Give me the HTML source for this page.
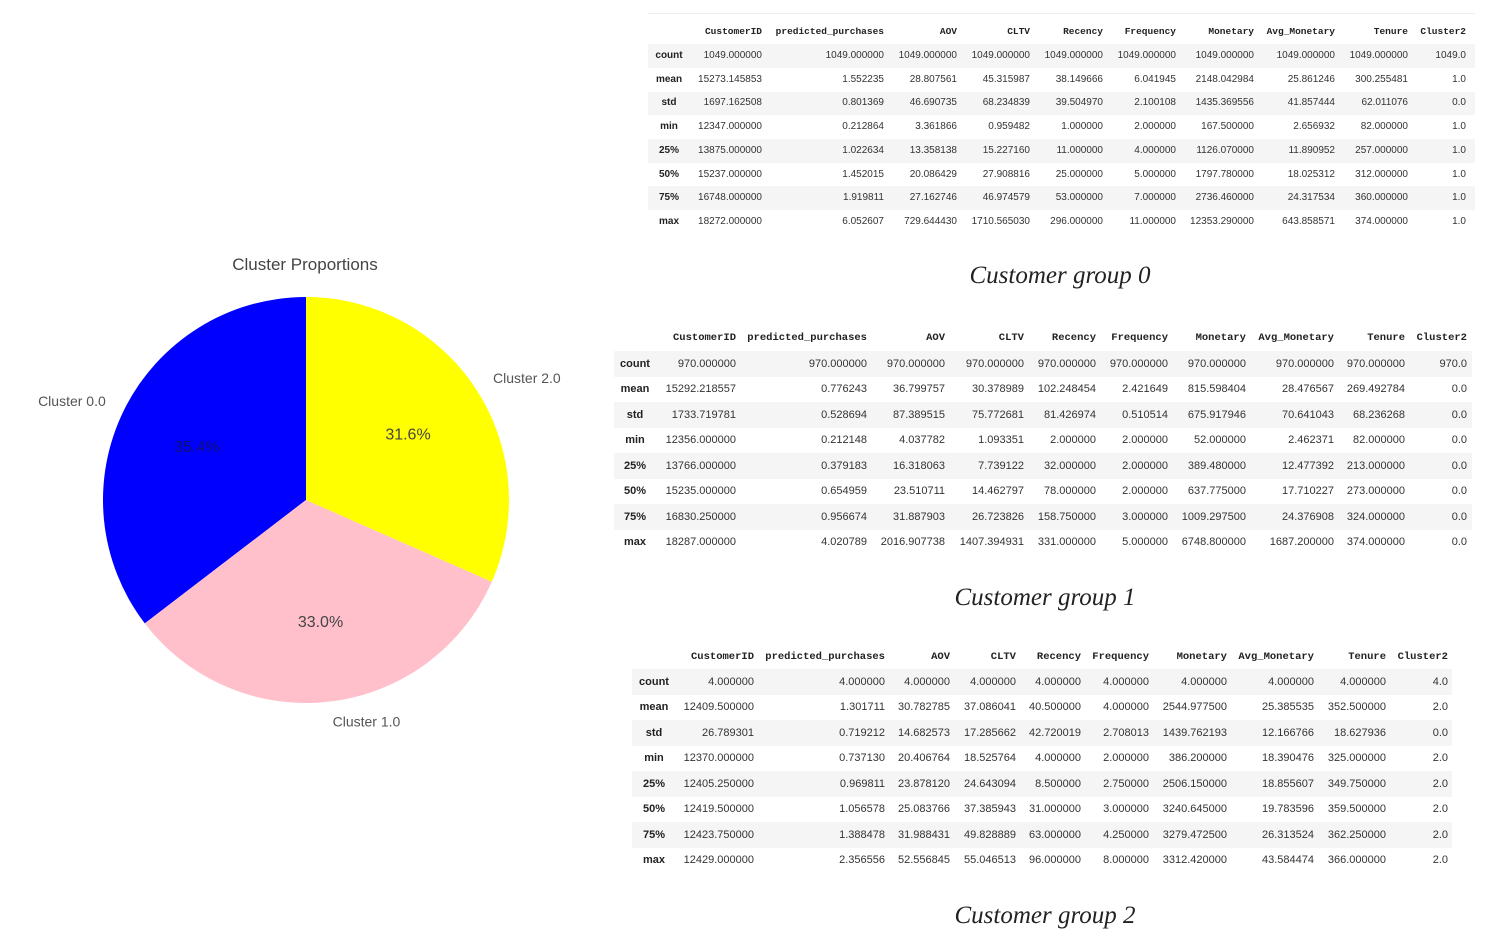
<!DOCTYPE html>
<html><head><meta charset="utf-8">
<style>
body{margin:0;width:1499px;height:945px;background:#fff;overflow:hidden;position:relative;font-family:"Liberation Sans",sans-serif}
.t{position:absolute;white-space:nowrap;line-height:1}
.cap{position:absolute;font-family:"Liberation Serif",serif;font-style:italic;font-size:25px;color:#222;transform:translateX(-50%);white-space:nowrap}
</style></head><body>
<svg id="pie" width="600" height="945" style="position:absolute;left:0;top:0"></svg>
<div id="tables"></div>
<div class="cap" style="left:1060px;top:262px">Customer group 0</div>
<div class="cap" style="left:1045px;top:584px">Customer group 1</div>
<div class="cap" style="left:1045px;top:902px">Customer group 2</div>
<script>
const sliceLabels=["Cluster 0.0","Cluster 1.0","Cluster 2.0"];
const sliceValues=[35.4,33.0,31.6];
const sliceColors=["#0000ff","#ffc0cb","#ffff00"];
const columns=["CustomerID","predicted_purchases","AOV","CLTV","Recency","Frequency","Monetary","Avg_Monetary","Tenure","Cluster2"];
const rowLabels=["count","mean","std","min","25%","50%","75%","max"];
const group0=[
["1049.000000","1049.000000","1049.000000","1049.000000","1049.000000","1049.000000","1049.000000","1049.000000","1049.000000","1049.0"],
["15273.145853","1.552235","28.807561","45.315987","38.149666","6.041945","2148.042984","25.861246","300.255481","1.0"],
["1697.162508","0.801369","46.690735","68.234839","39.504970","2.100108","1435.369556","41.857444","62.011076","0.0"],
["12347.000000","0.212864","3.361866","0.959482","1.000000","2.000000","167.500000","2.656932","82.000000","1.0"],
["13875.000000","1.022634","13.358138","15.227160","11.000000","4.000000","1126.070000","11.890952","257.000000","1.0"],
["15237.000000","1.452015","20.086429","27.908816","25.000000","5.000000","1797.780000","18.025312","312.000000","1.0"],
["16748.000000","1.919811","27.162746","46.974579","53.000000","7.000000","2736.460000","24.317534","360.000000","1.0"],
["18272.000000","6.052607","729.644430","1710.565030","296.000000","11.000000","12353.290000","643.858571","374.000000","1.0"]];
const group1=[
["970.000000","970.000000","970.000000","970.000000","970.000000","970.000000","970.000000","970.000000","970.000000","970.0"],
["15292.218557","0.776243","36.799757","30.378989","102.248454","2.421649","815.598404","28.476567","269.492784","0.0"],
["1733.719781","0.528694","87.389515","75.772681","81.426974","0.510514","675.917946","70.641043","68.236268","0.0"],
["12356.000000","0.212148","4.037782","1.093351","2.000000","2.000000","52.000000","2.462371","82.000000","0.0"],
["13766.000000","0.379183","16.318063","7.739122","32.000000","2.000000","389.480000","12.477392","213.000000","0.0"],
["15235.000000","0.654959","23.510711","14.462797","78.000000","2.000000","637.775000","17.710227","273.000000","0.0"],
["16830.250000","0.956674","31.887903","26.723826","158.750000","3.000000","1009.297500","24.376908","324.000000","0.0"],
["18287.000000","4.020789","2016.907738","1407.394931","331.000000","5.000000","6748.800000","1687.200000","374.000000","0.0"]];
const group2=[
["4.000000","4.000000","4.000000","4.000000","4.000000","4.000000","4.000000","4.000000","4.000000","4.0"],
["12409.500000","1.301711","30.782785","37.086041","40.500000","4.000000","2544.977500","25.385535","352.500000","2.0"],
["26.789301","0.719212","14.682573","17.285662","42.720019","2.708013","1439.762193","12.166766","18.627936","0.0"],
["12370.000000","0.737130","20.406764","18.525764","4.000000","2.000000","386.200000","18.390476","325.000000","2.0"],
["12405.250000","0.969811","23.878120","24.643094","8.500000","2.750000","2506.150000","18.855607","349.750000","2.0"],
["12419.500000","1.056578","25.083766","37.385943","31.000000","3.000000","3240.645000","19.783596","359.500000","2.0"],
["12423.750000","1.388478","31.988431","49.828889","63.000000","4.250000","3279.472500","26.313524","362.250000","2.0"],
["12429.000000","2.356556","52.556845","55.046513","96.000000","8.000000","3312.420000","43.584474","366.000000","2.0"]];

// pie
const svg=document.getElementById('pie');const NS="http://www.w3.org/2000/svg";
const cx=306,cy=500,R=203;
function mk(tag,attrs){const e=document.createElementNS(NS,tag);for(const k in attrs)e.setAttribute(k,attrs[k]);svg.appendChild(e);return e;}
const title=mk('text',{x:305,y:270,'text-anchor':'middle','font-size':17,fill:'#444','font-family':'Liberation Sans'});
title.textContent="Cluster Proportions";


const total=sliceValues.reduce((a,b)=>a+b,0);
let ang=90;
sliceValues.forEach((v,i)=>{
  const sweep=v/total*360;const a0=ang*Math.PI/180,a1=(ang+sweep)*Math.PI/180;
  const x0=cx+R*Math.cos(a0),y0=cy-R*Math.sin(a0),x1=cx+R*Math.cos(a1),y1=cy-R*Math.sin(a1);
  const p=mk('path',{d:`M${cx},${cy}L${x0},${y0}A${R},${R} 0 ${sweep>180?1:0} 0 ${x1},${y1}Z`,fill:sliceColors[i]});
  
  
  const m=(ang+sweep/2)*Math.PI/180;
  const pt=mk('text',{x:cx+0.6*R*Math.cos(m),y:cy-0.6*R*Math.sin(m)+6,'text-anchor':'middle','font-size':16,fill:i==0?'#101070':'#444','font-family':'Liberation Sans'});
  pt.textContent=v.toFixed(1)+'%';
  
  
  const lx=cx+1.1*R*Math.cos(m),ly=cy-1.1*R*Math.sin(m);
  const lt=mk('text',{x:lx,y:ly+5,'text-anchor':Math.cos(m)<-0.1?'end':(Math.cos(m)>0.1?'start':'middle'),'font-size':14,fill:'#555','font-family':'Liberation Sans'});
  lt.textContent=sliceLabels[i];
  
  
  ang+=sweep;
});

// tables
const host=document.getElementById('tables');
function table(data,cfg,idx){
  const wrap=document.createElement('div');
  
  
  wrap.style.cssText=`position:absolute;left:0;top:0;width:1499px;height:945px`;
  host.appendChild(wrap);
  if(idx==0){const top=document.createElement('div');
  top.style.cssText=`position:absolute;left:${cfg.x0}px;top:13px;width:${cfg.x1-cfg.x0}px;height:1px;background:#eee`;
  wrap.appendChild(top);}
  rowLabels.forEach((r,i)=>{
    const y=cfg.ry+i*cfg.step;
    if(i%2==0){const b=document.createElement('div');
      
      
      b.style.cssText=`position:absolute;left:${cfg.x0}px;top:${y-cfg.step/2}px;width:${cfg.x1-cfg.x0}px;height:${cfg.step}px;background:#f5f5f5`;wrap.appendChild(b);}
  });
  columns.forEach((c,j)=>{
    const h=document.createElement('div');h.className='t';
    
    
    h.textContent=c;
    h.style.cssText=`right:${1499-cfg.rx[j]}px;top:${cfg.hy-cfg.fs/2}px;font-family:"Liberation Mono",monospace;font-weight:bold;font-size:${cfg.fs-0.5}px;color:#222`;
    wrap.appendChild(h);
  });
  rowLabels.forEach((r,i)=>{
    const y=cfg.ry+i*cfg.step;
    const l=document.createElement('div');l.className='t';
    
    
    l.textContent=r;
    l.style.cssText=`left:${cfg.lc-30}px;width:60px;text-align:center;top:${y-cfg.fs/2}px;font-weight:bold;font-size:${cfg.fs}px;color:#222`;
    wrap.appendChild(l);
    data[i].forEach((v,j)=>{
      const d=document.createElement('div');d.className='t';
      
      
      d.textContent=v;
      d.style.cssText=`right:${1499-cfg.rx[j]}px;top:${y-cfg.fs/2}px;font-size:${cfg.fs}px;color:#333`;
      wrap.appendChild(d);
    });
  });
}
table(group0,{x0:648,x1:1475,hy:32,ry:56,step:23.7,fs:10,lc:669,rx:[762,884,957,1030,1103,1176,1254,1335,1408,1466]},0);
table(group1,{x0:614,x1:1472,hy:338,ry:364,step:25.5,fs:11,lc:635,rx:[736,867,945,1024,1096,1168,1246,1334,1405,1467]},1);
table(group2,{x0:632,x1:1452,hy:657,ry:682,step:25.5,fs:11,lc:654,rx:[754,885,950,1016,1081,1149,1227,1314,1386,1448]},2);
</script>
</body></html>
